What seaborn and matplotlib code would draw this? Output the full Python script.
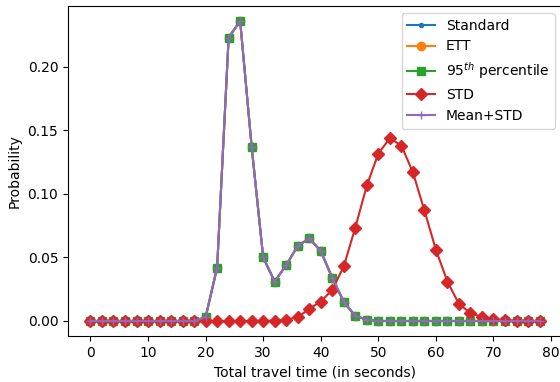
import numpy as np
import pandas as pd
import matplotlib
matplotlib.use("Agg")
import matplotlib.pyplot as plt
import seaborn as sns

x_seconds = list(range(0, 80, 2))

main_probs = [0, 0, 0, 0, 0, 0, 0, 0, 0, 0,
              0.003, 0.042, 0.223, 0.236, 0.137, 0.050, 0.031, 0.044, 0.059, 0.065,
              0.055, 0.034, 0.015, 0.004, 0.001, 0, 0, 0, 0, 0,
              0, 0, 0, 0, 0, 0, 0, 0, 0, 0]

std_probs = [0, 0, 0, 0, 0, 0, 0, 0, 0, 0,
             0, 0, 0, 0, 0, 0, 0.0003, 0.001, 0.003, 0.0095,
             0.0153, 0.0245, 0.043, 0.0735, 0.1066, 0.1317, 0.1438, 0.138, 0.117, 0.087,
             0.056, 0.031, 0.0134, 0.0063, 0.003, 0.0015, 0.0005, 0.0002, 0, 0]

series_names = ["Standard", "ETT", "95$^{th}$ percentile", "STD", "Mean+STD"]
series_values = [main_probs, main_probs, main_probs, std_probs, main_probs]
markers = [".", "o", "s", "D", "+"]
colors = ["#1f77b4", "#ff7f0e", "#2ca02c", "#d62728", "#9467bd"]

fig = plt.figure(figsize=(5.6, 3.82), dpi=100)
ax = fig.add_axes([68 / 560, 46 / 382, 494 / 560, 330 / 382])

for name, vals, m, c in zip(series_names, series_values, markers, colors):
    df = pd.DataFrame({"x": x_seconds, "y": vals})
    sns.lineplot(data=df, x="x", y="y", ax=ax, marker=m, color=c, label=name,
                 markeredgecolor=c, markeredgewidth=1, markersize=6)

ax.set_xlabel("Total travel time (in seconds)")
ax.set_ylabel("Probability")
ax.set_xticks(range(0, 81, 10))
ax.set_xlim(-3.9, 81.9)
ax.set_ylim(-0.0118, 0.2478)
ax.legend(loc="upper right")
fig.savefig("out.png", dpi=100)
